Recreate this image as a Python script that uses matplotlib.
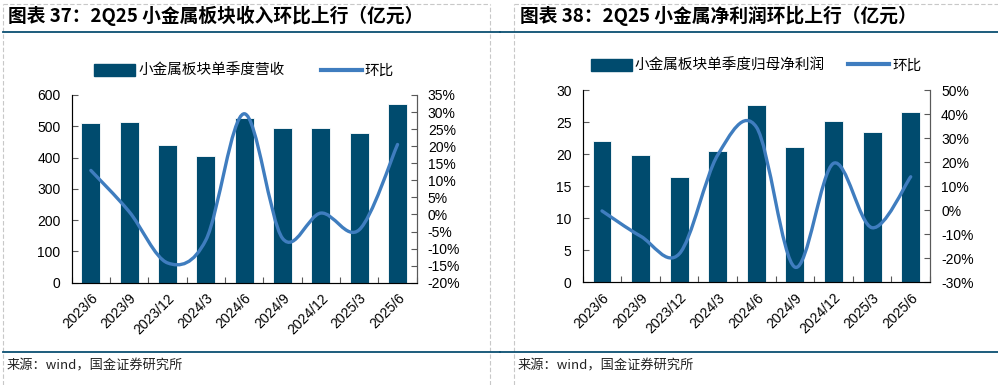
import numpy as np
import matplotlib.pyplot as plt
from matplotlib.path import Path
from matplotlib.patches import PathPatch, Patch
from matplotlib.lines import Line2D
from matplotlib.ticker import FuncFormatter, MultipleLocator

plt.rcParams['font.family'] = ['Liberation Sans', 'Noto Sans CJK SC', 'DejaVu Sans']

quarters = ["2023/6", "2023/9", "2023/12", "2024/3", "2024/6",
            "2024/9", "2024/12", "2025/3", "2025/6"]

# 图表37: 收入 (亿元) and 环比 (%)
revenue = [510, 513, 441, 406, 525, 494, 495, 477, 572]
revenue_qoq = [12.9, 0.8, -14.2, -7.5, 29.5, -7.0, 0.4, -4.5, 20.5]

# 图表38: 归母净利润 (亿元) and 环比 (%)
profit = [22.1, 19.8, 16.5, 20.5, 27.6, 21.1, 25.1, 23.4, 26.5]
profit_qoq = [-0.3, -10.8, -18.2, 23.0, 34.6, -23.7, 19.5, -7.3, 13.9]

BAR = "#004B6E"
LINE = "#3F7DBF"
RULE = "#0B4F72"
SPINE = "#595959"
CJK = ['Noto Sans CJK SC', 'DejaVu Sans']


def smooth_path(x, y):
    """Excel-style smoothed line: cubic Bezier through each point (Catmull-Rom)."""
    x = np.asarray(x, float)
    y = np.asarray(y, float)
    verts = [(x[0], y[0])]
    codes = [Path.MOVETO]
    n = len(x)
    for i in range(n - 1):
        p0 = (x[max(i - 1, 0)], y[max(i - 1, 0)])
        p1 = (x[i], y[i])
        p2 = (x[i + 1], y[i + 1])
        p3 = (x[min(i + 2, n - 1)], y[min(i + 2, n - 1)])
        c1 = (p1[0] + (p2[0] - p0[0]) / 6, p1[1] + (p2[1] - p0[1]) / 6)
        c2 = (p2[0] - (p3[0] - p1[0]) / 6, p2[1] - (p3[1] - p1[1]) / 6)
        verts += [c1, c2, p2]
        codes += [Path.CURVE4] * 3
    return Path(verts, codes)


def panel(fig, rect, bars, qoq, ylim, ystep, rlim, rstep, bar_label, colgap):
    ax = fig.add_axes(rect)
    xs = np.arange(len(quarters))
    ax.bar(xs, bars, width=0.49, color=BAR, edgecolor="white", linewidth=0.6, zorder=2)
    ax.set_xlim(-0.5, len(quarters) - 0.5)
    ax.set_ylim(*ylim)
    ax.yaxis.set_major_locator(MultipleLocator(ystep))
    ax.set_xticks(np.arange(len(quarters) + 1) - 0.5)
    ax.set_xticklabels([])
    ax.set_xticks(xs, minor=True)
    ax.set_xticklabels(quarters, minor=True, rotation=45, ha="right", va="top",
                       rotation_mode="anchor", fontsize=10)
    ax.tick_params(axis="x", which="minor", length=0, pad=6)
    ax.tick_params(axis="x", which="major", direction="in", length=4, color=SPINE)
    ax.tick_params(axis="y", direction="in", length=4, color=SPINE, labelsize=10, pad=8)
    for s in ("left", "bottom", "right"):
        ax.spines[s].set_color(SPINE)
    ax.spines["top"].set_visible(False)

    ax2 = ax.twinx()
    ax2.set_ylim(*rlim)
    ax2.yaxis.set_major_locator(MultipleLocator(rstep))
    ax2.yaxis.set_major_formatter(FuncFormatter(lambda v, p: f"{v:.0f}%"))
    ax2.tick_params(axis="y", direction="in", length=4, color=SPINE, labelsize=10, pad=8)
    ax2.spines["right"].set_color(SPINE)
    ax2.spines["top"].set_visible(False)
    ax2.add_patch(PathPatch(smooth_path(xs, qoq), facecolor="none", edgecolor=LINE,
                            linewidth=2.4, capstyle="round", zorder=3))
    handles = [Patch(color=BAR), Line2D([], [], color=LINE, linewidth=3)]
    ax.legend(handles, [bar_label, "环比"], loc="lower center", bbox_to_anchor=(0.5, 1.02),
              ncol=2, frameon=False, prop={'family': CJK, 'size': 10.5},
              handlelength=2.8, handleheight=0.9, columnspacing=colgap, handletextpad=0.2)
    return ax


fig = plt.figure(figsize=(9.98, 3.85), dpi=100)

# frames, rules, titles and sources
for x0, x1 in ((3, 490), (514, 1000)):
    fig.add_artist(Line2D([x0 / 998, x0 / 998], [0, 1 - 4 / 385], color="#C8C8C8",
                          linestyle=(0, (4, 2)), linewidth=0.8))
    fig.add_artist(Line2D([x1 / 998, x1 / 998], [0, 1 - 4 / 385], color="#C8C8C8",
                          linestyle=(0, (4, 2)), linewidth=0.8))
    fig.add_artist(Line2D([x0 / 998, x1 / 998], [1 - 4 / 385, 1 - 4 / 385], color="#C8C8C8",
                          linestyle=(0, (4, 2)), linewidth=0.8))
for x0, x1 in ((3, 500), (500, 998)):
    for yy in (32, 352):
        fig.add_artist(Line2D([x0 / 998, x1 / 998], [1 - yy / 385, 1 - yy / 385],
                              color=RULE, linewidth=1.3))

fig.text(8 / 998, 1 - 16 / 385, "图表 37：2Q25 小金属板块收入环比上行（亿元）",
         fontsize=13.5, fontweight="bold", va="center", family=CJK)
fig.text(520 / 998, 1 - 16 / 385, "图表 38：2Q25 小金属净利润环比上行（亿元）",
         fontsize=13.5, fontweight="bold", va="center", family=CJK)
fig.text(7 / 998, 1 - 366 / 385, "来源：wind，国金证券研究所", fontsize=9.5,
         va="center", family=CJK, color="#222222")
fig.text(518 / 998, 1 - 366 / 385, "来源：wind，国金证券研究所", fontsize=9.5,
         va="center", family=CJK, color="#222222")

panel(fig, [71.7 / 998, 1 - 282.7 / 385, 345 / 998, 187.7 / 385],
      revenue, revenue_qoq, (0, 600), 100, (-20, 35), 5, "小金属板块单季度营收", 2.5)
panel(fig, [582.7 / 998, 1 - 282.3 / 385, 347.3 / 998, 192.3 / 385],
      profit, profit_qoq, (0, 30), 5, (-30, 50), 10, "小金属板块单季度归母净利润", 1.6)

fig.savefig("out.png", dpi=100)
